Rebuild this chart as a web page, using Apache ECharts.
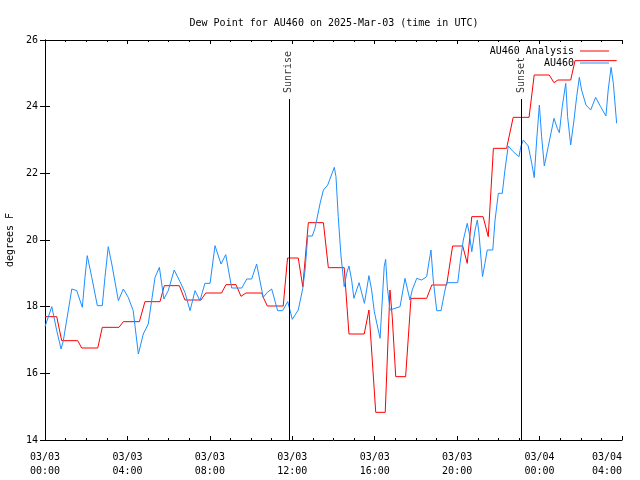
<!DOCTYPE html>
<html>
<head>
<meta charset="utf-8">
<script src="https://cdn.jsdelivr.net/npm/echarts@6/dist/echarts.min.js"></script>
<style>html,body{margin:0;padding:0;background:#fff}#c{width:640px;height:480px}</style>
</head>
<body>
<div id="c"></div>
<script>
// hours since 03/03 00:00 UTC
var xTickLabels = ['03/03\n00:00','03/03\n04:00','03/03\n08:00','03/03\n12:00','03/03\n16:00','03/03\n20:00','03/04\n00:00','03/04\n04:00'];
var yTicks = [14,16,18,20,22,24,26];

var obsHours = [0.00,0.33,0.57,0.78,0.89,1.30,1.54,1.81,1.94,2.05,2.27,2.54,2.78,2.91,3.07,3.24,3.56,3.80,4.04,4.28,4.53,4.77,5.01,5.34,5.55,5.77,5.98,6.27,6.55,6.79,7.04,7.28,7.52,7.76,8.01,8.25,8.54,8.77,9.06,9.55,9.79,10.03,10.27,10.59,10.79,11.00,11.29,11.53,11.78,12.00,12.29,12.51,12.62,12.75,12.97,13.10,13.35,13.51,13.72,14.04,14.12,14.23,14.36,14.52,14.64,14.75,14.88,14.99,15.24,15.50,15.72,15.85,15.98,16.26,16.46,16.53,16.61,16.74,16.98,17.23,17.47,17.58,17.71,17.82,18.04,18.28,18.52,18.65,18.73,18.84,19.01,19.22,19.38,19.49,20.03,20.14,20.30,20.49,20.59,20.71,20.87,20.98,21.06,21.23,21.35,21.46,21.73,21.84,22.00,22.19,22.32,22.48,22.72,23.00,23.09,23.21,23.45,23.62,23.74,23.86,23.99,24.10,24.23,24.42,24.70,24.86,24.96,25.10,25.27,25.36,25.51,25.67,25.80,25.93,26.04,26.25,26.48,26.72,26.96,27.22,27.33,27.47,27.58,27.74];
var obsValues = [17.4,18.0,17.28,16.73,16.98,18.53,18.48,17.98,18.88,19.53,18.88,18.03,18.03,18.88,19.8,19.28,18.18,18.53,18.28,17.88,16.58,17.18,17.48,18.88,19.18,18.23,18.48,19.1,18.75,18.43,17.88,18.48,18.18,18.7,18.7,19.83,19.28,19.56,18.56,18.56,18.83,18.83,19.28,18.28,18.43,18.53,17.88,17.88,18.15,17.62,17.9,18.55,19.1,20.12,20.12,20.35,21.1,21.5,21.65,22.18,21.9,20.7,19.55,18.6,19.0,19.22,18.8,18.25,18.72,18.1,18.93,18.5,17.85,17.05,19.2,19.42,18.6,17.9,17.95,18.0,18.85,18.55,18.2,18.5,18.85,18.8,18.9,19.4,19.7,18.8,17.88,17.88,18.4,18.72,18.72,19.3,20.0,20.5,20.2,19.65,20.3,20.6,20.2,18.9,19.3,19.7,19.7,20.6,21.4,21.4,22.1,22.82,22.65,22.5,22.8,23.0,22.82,22.3,21.87,23.0,24.05,23.1,22.22,22.8,23.65,23.35,23.22,24.0,24.7,23.7,22.85,23.6,24.3,24.88,24.5,24.05,23.9,24.28,24.0,23.72,24.5,25.18,24.7,23.5];

var anaHours = [0,0.57,0.81,1.59,1.78,2.56,2.78,3.59,3.80,4.58,4.85,5.58,5.79,6.52,6.79,7.57,7.80,8.57,8.78,9.27,9.51,9.75,10.52,10.59,10.79,11.56,11.77,12.29,12.51,12.78,13.51,13.75,14.52,14.75,15.49,15.72,16.05,16.51,16.74,16.85,17.02,17.50,17.76,18.52,18.77,19.49,19.78,20.27,20.49,20.71,21.26,21.51,21.76,22.40,22.72,23.49,23.74,24.47,24.70,24.89,25.51,25.72,27.74];
var anaValues = [17.7,17.7,16.98,16.98,16.76,16.76,17.38,17.38,17.55,17.55,18.15,18.15,18.63,18.63,18.2,18.2,18.41,18.41,18.66,18.66,18.31,18.41,18.41,18.28,18.02,18.02,19.46,19.46,18.6,20.52,20.52,19.17,19.17,17.18,17.18,17.9,14.83,14.83,18.5,17.7,15.9,15.9,18.25,18.25,18.65,18.65,19.82,19.82,19.3,20.7,20.7,20.1,22.75,22.75,23.68,23.68,24.95,24.95,24.72,24.8,24.8,25.38,25.38];

var sunNames = ['Sunrise','Sunset'];
var sunHours = [11.83, 23.10];
var sunLineTop = 24.23;

function zip(a,b){return a.map(function(v,i){return [v,b[i]];});}

var font = 'DejaVu Sans Mono';
var chart = echarts.init(document.getElementById('c'), null, {renderer:'canvas'});

var xBase = {
  type:'value', min:0, max:28, interval:4,
  axisLine:{show:true, lineStyle:{color:'#000', width:1}},
  axisTick:{show:true, inside:true, length:4, lineStyle:{color:'#000'}},
  minorTick:{show:true, splitNumber:4, length:2, lineStyle:{color:'#000'}},
  splitLine:{show:false}
};
var yBase = {
  type:'value', min:14, max:26, interval:2,
  axisLine:{show:true, lineStyle:{color:'#000', width:1}},
  axisTick:{show:true, inside:true, length:5, lineStyle:{color:'#000'}},
  splitLine:{show:false}
};

chart.setOption({
  animation:false,
  backgroundColor:'#fff',
  title:{text:'Dew Point for AU460 on 2025-Mar-03 (time in UTC)', left:329, top:13, textAlign:'center',
    textStyle:{fontFamily:font, fontSize:10, fontWeight:'normal', color:'#000'}},
  legend:{
    orient:'vertical', right:26, top:41, align:'right', itemWidth:29, itemHeight:1, itemGap:2,
    icon:'rect',
    data:['AU460 Analysis','AU460'],
    textStyle:{fontFamily:font, fontSize:10, color:'#000', padding:[0,1,0,0]}
  },
  grid:{left:45, right:18, top:40, bottom:40, containLabel:false, outerBoundsMode:'none'},
  xAxis:[
    Object.assign({}, xBase, {position:'bottom',
      axisLabel:{show:true, margin:10, fontFamily:font, fontSize:10, color:'#000', lineHeight:14,
        alignMaxLabel:'right',
        formatter:function(v){return xTickLabels[Math.round(v/4)] || '';}}}),
    Object.assign({}, xBase, {position:'top', axisLabel:{show:false}})
  ],
  yAxis:[
    Object.assign({}, yBase, {position:'left', name:'degrees F', nameLocation:'middle', nameGap:30,
      nameTextStyle:{fontFamily:font, fontSize:10, color:'#000'},
      axisLabel:{show:true, margin:7, fontFamily:font, fontSize:10, color:'#000',
        formatter:function(v){return yTicks.indexOf(v)>=0 ? String(v) : '';}}}),
    Object.assign({}, yBase, {position:'right', axisLabel:{show:false}})
  ],
  series:[
    {name:'AU460 Analysis', type:'line', data:zip(anaHours, anaValues), showSymbol:false, symbol:'none',
      lineStyle:{color:'#ff0000', width:1}, itemStyle:{color:'#ff0000'}, z:3},
    {name:'AU460', type:'line', data:zip(obsHours, obsValues), showSymbol:false, symbol:'none',
      lineStyle:{color:'#1e8fff', width:1}, itemStyle:{color:'#1e8fff'}, z:4},
    {name:'sun', type:'scatter', symbolSize:0, silent:true, z:5,
      data:sunHours.map(function(h,i){return [h, sunLineTop, sunNames[i]];}),
      label:{show:true, position:'top', distance:6, rotate:90, align:'left', verticalAlign:'middle',
        fontFamily:font, fontSize:10, color:'#000', formatter:function(p){return p.value[2];}},
      markLine:{silent:true, symbol:['none','none'], label:{show:false},
        lineStyle:{color:'#000', width:1, type:'solid'},
        data:sunHours.map(function(h){return [{coord:[h,14]},{coord:[h,sunLineTop]}];})}
    }
  ]
});
</script>
</body>
</html>
